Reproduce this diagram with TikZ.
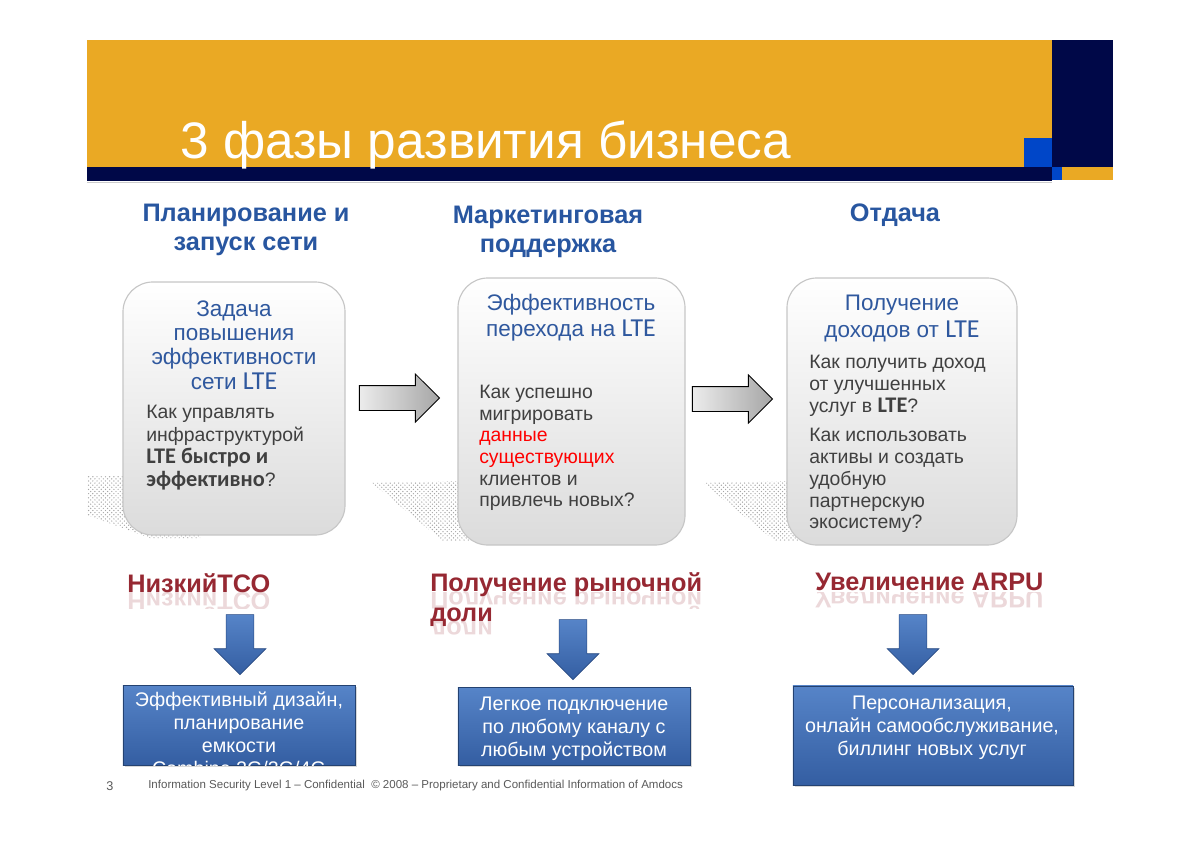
\documentclass[tikz,border=0pt]{standalone}
\usepackage{fontspec}
\setmainfont{Liberation Sans}
\newfontfamily\calib[Scale=1.15]{Carlito}
\usetikzlibrary{positioning,shapes.arrows,shadows,patterns}
\definecolor{banner}{RGB}{234,169,36}
\definecolor{navy}{RGB}{0,8,72}
\definecolor{squareblue}{RGB}{0,70,200}
\definecolor{headblue}{RGB}{40,86,160}
\definecolor{titleblue}{RGB}{47,88,158}
\definecolor{bodygray}{RGB}{64,64,64}
\definecolor{darkred}{RGB}{150,40,50}
\definecolor{boxblue}{RGB}{86,132,200}
\definecolor{boxblue2}{RGB}{52,94,162}

\begin{document}
\begin{tikzpicture}[x=0.025cm,y=-0.025cm,
  phase box/.style={draw=gray!45,line width=0.8pt,rounded corners=0.75cm,top color=white,bottom color=gray!28,inner sep=0pt},
  box title/.style={align=center,text=titleblue,font=\fontsize{16}{17.4}\selectfont,inner sep=0pt},
  box body/.style={align=left,text=bodygray,anchor=west,font=\fontsize{13.8}{16}\selectfont,inner sep=0pt},
  phase head/.style={align=center,text=headblue,font=\fontsize{18}{21}\selectfont\bfseries,inner sep=0pt},
  gain head/.style={anchor=base west,text=darkred,font=\fontsize{18}{21}\selectfont\bfseries,inner sep=0pt},
  gain mirror/.style={gain head,opacity=0.18,transform shape},
  shadow area/.style={pattern=crosshatch dots,pattern color=gray!70},
  gray arrow/.style={single arrow,draw=black,line width=0.6pt,anchor=tip,left color=gray!15,right color=gray!70,
    minimum height=2cm,single arrow head extend=0.29cm,inner xsep=0pt,inner ysep=0.3cm},
  blue arrow/.style={single arrow,rotate=-90,anchor=tip,draw=boxblue2!80!black,line width=0.4pt,top color=boxblue,bottom color=boxblue2,
    minimum height=1.5cm,single arrow head extend=0.3cm,inner xsep=0pt,inner ysep=0.34cm},
  blue box/.style={draw=boxblue2!70!black,line width=0.4pt,top color=boxblue,bottom color=boxblue2,inner sep=0pt,
    drop shadow={fill=gray!60,shadow xshift=1.5pt,shadow yshift=-1.5pt}},
  blue text/.style={align=center,text=white,font=\fontsize{14}{16.4}\selectfont,inner sep=0pt}]

  \useasboundingbox (0,0) rectangle (1200,848);

  \fill[banner] (87,40) rectangle (1052,167);
  \fill[navy] (1052,40) rectangle (1113,167);
  \fill[navy] (87,167) rectangle (1052,181);
  \fill[squareblue] (1024,138) rectangle (1052,167);
  \fill[squareblue] (1052,167) rectangle (1062,180);
  \fill[banner] (1062,167) rectangle (1113,180);
  \draw[gray!40,line width=0.6pt] (87,182) -- (1052,182);
  \node[anchor=base west,inner sep=0pt,text=white,font=\fontsize{36.5}{40}\selectfont] (title) at (180,158) {3 фазы развития бизнеса};

  \node[phase head] (plan head) at (246,230) {Планирование и\\запуск сети};
  \node[phase head] (market head) at (548,232) {Маркетинговая\\поддержка};
  \node[phase head] (return head) at (895,215) {Отдача};

  \fill[shadow area] (87,476) -- (200,476) -- (200,538) -- (150,538) -- (87,515) -- cycle;
  \fill[shadow area] (372,483) -- (500,480) -- (500,541) -- (443,541) -- cycle;
  \fill[shadow area] (703,483) -- (830,480) -- (830,541) -- (775,541) -- cycle;

  \node[phase box,minimum width=5.55cm,minimum height=6.325cm] (plan) at (234,408.5) {};
  \node[phase box,minimum width=5.675cm,minimum height=6.675cm] (market) at (571.5,411.5) {};
  \node[phase box,minimum width=5.75cm,minimum height=6.675cm] (return) at (902,411.5) {};

  \node[box title] (plan title) at (234,345) {Задача\\повышения\\эффективности\\сети {\calib LTE}};
  \node[box body] (plan text) at (146,447.5) {Как управлять\\инфраструктурой\\{\calib\bfseries LTE быстро и}\\{\calib\bfseries эффективно}?};
  \node[box title,font=\fontsize{16}{18.5}\selectfont] (market title) at (571,318) {Эффективность\\перехода на {\calib LTE}};
  \node[box body,font=\fontsize{13.8}{15.4}\selectfont] (market text) at (479,448) {Как успешно\\мигрировать\\\textcolor{red}{данные}\\\textcolor{red}{существующих}\\клиентов и\\привлечь новых?};
  \node[box title,font=\fontsize{16}{18.5}\selectfont] (return title) at (902,318.5) {Получение\\доходов от {\calib LTE}};
  \node[box body,font=\fontsize{13.8}{15.6}\selectfont] (return text) at (809,444) {Как получить доход\\от улучшенных\\услуг в {\calib\bfseries LTE}?\\[5pt]Как использовать\\активы и создать\\удобную\\партнерскую\\экосистему?};

  \node[gray arrow] (plan arrow) at (440,398) {};
  \node[gray arrow] (market arrow) at (773,399) {};

  \node[gain head] (tco head) at (127,592) {НизкийТСО};
  \node[gain head] (share head) at (430,591) {Получение рыночной};
  \node[gain head] (share head2) at (430,621) {доли};
  \node[gain head] (arpu head) at (815,590) {Увеличение ARPU};
  \begin{scope}
    \clip (100,592) rectangle (1100,608);
    \begin{scope}[shift={(127,592)},yscale=-1]\node[gain mirror] (tco mirror) at (0,0) {НизкийТСО};\end{scope}
    \begin{scope}[shift={(430,591)},yscale=-1]\node[gain mirror] (share mirror) at (0,0) {Получение рыночной};\end{scope}
    \begin{scope}[shift={(815,590)},yscale=-1]\node[gain mirror] (arpu mirror) at (0,0) {Увеличение ARPU};\end{scope}
  \end{scope}
  \begin{scope}
    \clip (420,621) rectangle (520,636);
    \begin{scope}[shift={(430,621)},yscale=-1]\node[gain mirror] (share mirror2) at (0,0) {доли};\end{scope}
  \end{scope}

  \node[blue arrow] (tco arrow) at (240,675) {};
  \node[blue arrow] (share arrow) at (573,680) {};
  \node[blue arrow] (arpu arrow) at (913,675) {};

  \node[blue box,minimum width=5.8cm,minimum height=2cm] (design) at (239,725) {};
  \node[blue box,minimum width=5.8cm,minimum height=1.95cm] (connect) at (574,726) {};
  \node[blue box,minimum width=7cm,minimum height=2.475cm] (billing) at (933,735.5) {};

  \begin{scope}
    \clip (design.south west) rectangle (design.north east);
    \node[blue text] (design text) at (239,734) {Эффективный дизайн,\\планирование\\емкости\\Combine 2G/3G/4G};
  \end{scope}
  \node[blue text] (connect text) at (574,728.5) {Легкое подключение\\по любому каналу с\\любым устройством};
  \node[blue text] (billing text) at (932,728) {Персонализация,\\онлайн самообслуживание,\\биллинг новых услуг};

  \node[anchor=west,inner sep=0pt,text=gray!70!black,font=\fontsize{9}{10}\selectfont] (page num) at (106,786) {3};
  \node[anchor=west,inner sep=0pt,text=gray!70!black,font=\fontsize{8.2}{9}\selectfont] (footer) at (148,786) {Information Security Level 1 – Confidential \ © 2008 – Proprietary and Confidential Information of Amdocs};
\end{tikzpicture}
\end{document}
